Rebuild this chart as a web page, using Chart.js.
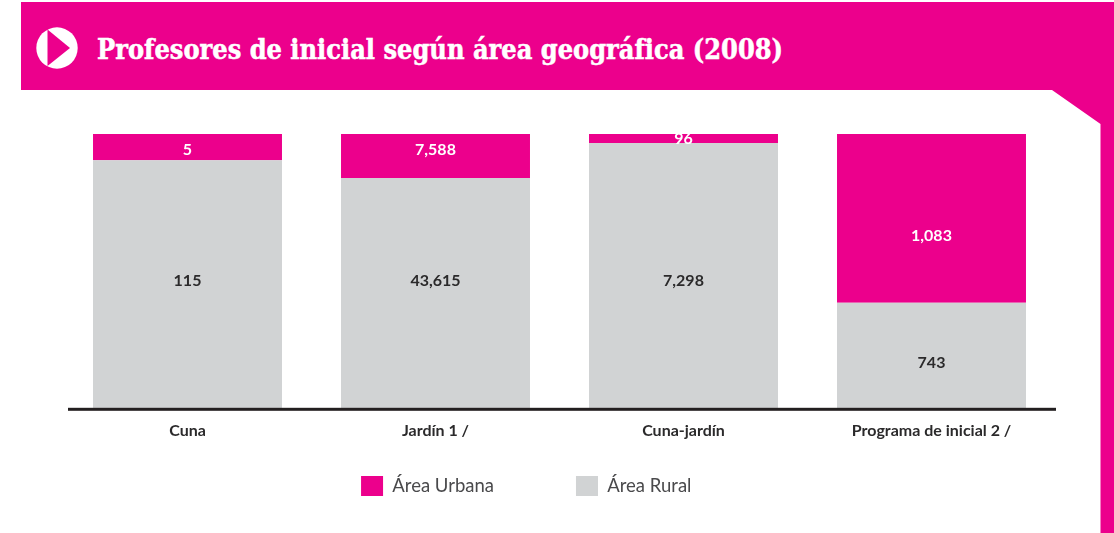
<!DOCTYPE html>
<html lang="es">
<head>
<meta charset="utf-8">
<title>Profesores de inicial según área geográfica (2008)</title>
<script src="https://cdn.jsdelivr.net/npm/chart.js@4/dist/chart.umd.min.js"></script>
<style>
  html,body{margin:0;padding:0;width:1114px;height:533px;overflow:hidden;background:#fff}
  #frame{position:absolute;left:0;top:0}
  #title{position:absolute;left:97px;top:31px;margin:0;color:#fff;white-space:nowrap;-webkit-text-stroke:.5px #fff;
    font:bold 27px/38px "DejaVu Serif Condensed","DejaVu Serif",serif;transform-origin:0 50%;}
  #wrap{position:absolute;left:0;top:0;width:1114px;height:533px}
</style>
</head>
<body>
<svg id="frame" width="1114" height="533" viewBox="0 0 1114 533" aria-hidden="true">
  <polygon fill="#ec008c" points="21,2 1114,2 1114,533 1100.5,533 1100.5,124 1052,90 21,90"/>
  <circle cx="57" cy="48" r="20.7" fill="#fff"/>
  <polygon fill="#ec008c" points="47.5,29.5 70,48 47.5,66"/>
</svg>
<h1 id="title">Profesores de inicial según área geográfica (2008)</h1>
<div id="wrap"><canvas id="c"></canvas></div>
<script>
const categories = ["Cuna", "Jardín 1 /", "Cuna-jardín", "Programa de inicial 2 /"];
const seriesNames = ["Área Rural", "Área Urbana"];
// Share of each bar's height, as drawn in the picture (percent)
const ruralShare = [90.5, 84, 96.7, 38.7];
const urbanShare = [9.5, 16, 3.3, 61.3];
// Values printed on the segments
const ruralLabels = ["115", "43,615", "7,298", "743"];
const urbanLabels = ["5", "7,588", "96", "1,083"];

const PINK = "#ec008c", GREY = "#d1d3d4", INK = "#2b2a2b";

// Printed labels sit off-centre in the reference: pixel nudges from the segment centre
const labelNudge = [[-4, -13, 4.5, 7], [3, -6, 0.5, 17]];

const t = document.getElementById("title");
t.style.transform = "scaleX(" + (686 / t.getBoundingClientRect().width) + ")";

const segmentLabels = {
  id: "segmentLabels",
  afterDatasetsDraw(chart) {
    const { ctx } = chart;
    ctx.save();
    ctx.font = "bold 16px Lato";
    ctx.textAlign = "center";
    ctx.textBaseline = "middle";
    chart.data.datasets.forEach((ds, d) => {
      chart.getDatasetMeta(d).data.forEach((bar, i) => {
        const c = bar.getCenterPoint();
        ctx.fillStyle = d === 1 ? "#fff" : INK;
        ctx.fillText(ds.printed[i], c.x, c.y + labelNudge[d][i]);
      });
    });
    ctx.restore();
  }
};

const axisRule = {
  id: "axisRule",
  afterDraw(chart) {
    const { ctx, chartArea } = chart;
    ctx.save();
    ctx.fillStyle = "#231f20";
    ctx.fillRect(68, chartArea.bottom - 1.5, 988, 3);
    ctx.restore();
  }
};

const legendShift = { x: -66.5, top: 394 };
const legendPlace = {
  id: "legendPlace",
  afterLayout(chart) {
    const l = chart.legend;
    l.left += legendShift.x;
    l.top = legendShift.top;
  }
};

new Chart(document.getElementById("c"), {
  type: "bar",
  data: {
    labels: categories,
    datasets: [
      { label: seriesNames[0], data: ruralShare, printed: ruralLabels, backgroundColor: GREY, stack: "s" },
      { label: seriesNames[1], data: urbanShare, printed: urbanLabels, backgroundColor: PINK, stack: "s" }
    ]
  },
  options: {
    responsive: true,
    maintainAspectRatio: false,
    animation: false,
    layout: { padding: { left: 63.5, right: 58.5, top: 134, bottom: -23.5 } },
    datasets: { bar: { categoryPercentage: 1, barPercentage: 0.762 } },
    scales: {
      x: {
        stacked: true,
        grid: { display: false },
        border: { display: false },
        ticks: { color: INK, font: { family: "Lato", weight: "bold", size: 16 }, padding: 4, maxRotation: 0, autoSkip: false }
      },
      y: {
        display: false,
        stacked: true,
        min: 0,
        max: 100
      }
    },
    plugins: {
      tooltip: { enabled: false },
      title: { display: false },
      legend: {
        position: "bottom",
        reverse: true,
        labels: {
          boxWidth: 22,
          boxHeight: 20,
          padding: 82,
          color: "#4a4a4c",
          font: { family: "Lato", size: 18.5 }
        }
      }
    }
  },
  plugins: [segmentLabels, axisRule, legendPlace]
});
</script>
</body>
</html>
